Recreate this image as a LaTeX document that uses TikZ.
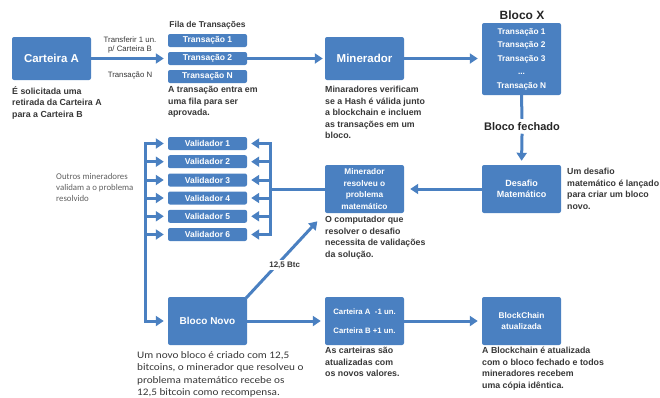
\documentclass[tikz,border=0pt]{standalone}
\usepackage{fontspec}
\setmainfont{Liberation Sans}
\newfontfamily\calfont{Carlito}
\newfontfamily\calwide[FakeStretch=1.12]{Carlito}
\usetikzlibrary{arrows.meta,calc}
\definecolor{bblue}{RGB}{74,128,193}
\definecolor{dtext}{RGB}{55,55,55}
\definecolor{ltext}{RGB}{95,95,95}
\begin{document}
\begin{tikzpicture}[x=1pt,y=-1pt,
 box/.style={fill=bblue,draw=none,rounded corners=2pt,text=white,align=center,inner sep=0pt},
 bigbox/.style={box,minimum width=79pt,minimum height=43pt},
 midbox/.style={box,minimum width=79pt,minimum height=48pt},
 smallbox/.style={box,minimum width=79pt,minimum height=13pt,font=\bfseries\fontsize{8.5}{10}\selectfont},
 desc/.style={anchor=north west,inner sep=0pt,align=left,text=dtext,font=\bfseries\fontsize{8.8}{11.6}\selectfont},
 flow/.style={draw=bblue,line width=3pt,line cap=rect,-{Triangle[length=8pt,width=10pt]}},
 plainline/.style={draw=bblue,line width=3pt},
 lbl/.style={text=dtext,align=center,inner sep=1pt,font=\fontsize{7.8}{9.5}\selectfont},
]
\useasboundingbox (0,0) rectangle (660,397);

% top row
\node[bigbox,font=\bfseries\fontsize{11.5}{13}\selectfont] (cartA) at (51.5,58.5) {Carteira A};
\node[text=dtext,font=\bfseries\fontsize{8.5}{10}\selectfont] (filat) at (207.5,25) {Fila de Transações};
\node[smallbox] (t1) at (207.5,40.5) {Transação 1};
\node[smallbox] (t2) at (207.5,58.5) {Transação 2};
\node[smallbox] (tN) at (207.5,76.5) {Transação N};
\node[lbl] (lab1) at (130,45) {Transferir 1 un.\\p/ Carteira B};
\node[lbl] (lab2) at (130,76) {Transação N};
\node[bigbox,font=\bfseries\fontsize{11.5}{13}\selectfont] (miner) at (364.5,58.5) {Minerador};
\node[text=black!85,font=\bfseries\fontsize{12}{14}\selectfont] (bxt) at (522,15) {Bloco X};
\node[box,minimum width=79pt,minimum height=72pt,font=\bfseries\fontsize{8.3}{13.5}\selectfont] (bx) at (521.5,59) {Transação 1\\Transação 2\\Transação 3\\...\\Transação N};
\node[text=black!85,font=\bfseries\fontsize{11}{13}\selectfont,inner sep=4pt] (fech) at (522,127) {Bloco fechado};

% middle row
\node[midbox,font=\bfseries\fontsize{9}{11.5}\selectfont] (des) at (521.5,189) {Desafio\\Matemático};
\node[midbox,font=\bfseries\fontsize{8.3}{11.7}\selectfont] (res) at (364.5,189) {Minerador\\resolveu o\\problema\\matemático};
\foreach \i/\y in {1/143.5,2/161.7,3/180,4/198,5/216.3,6/234.5}
  \node[smallbox] (v\i) at (207.5,\y) {Validador \i};
\coordinate (rb) at (270,189);
\coordinate (lbt) at (145,143.5);

% bottom row
\node[midbox,font=\bfseries\fontsize{10}{12}\selectfont] (novo) at (207.5,321) {Bloco Novo};
\node[midbox,font=\bfseries\fontsize{7.8}{19}\selectfont] (cart) at (364.5,321) {Carteira A\ \ -1 un.\\Carteira B +1 un.};
\node[midbox,font=\bfseries\fontsize{8.3}{11.5}\selectfont] (chain) at (521.5,321) {BlockChain\\atualizada};

% descriptions
\node[desc] (d1) at (12,86) {É solicitada uma\\retirada da Carteira A\\para a Carteira B};
\node[desc] (d2) at (168,86) {A transação entra em\\uma fila para ser\\aprovada.};
\node[desc] (d3) at (325,86) {Minaradores verificam\\se a Hash é válida junto\\a blockchain e incluem\\as transações em um\\bloco.};
\node[desc] (d4) at (567,168) {Um desafio\\matemático é lançado\\para criar um bloco\\novo.};
\node[desc] (d5) at (325,216) {O computador que\\resolver o desafio\\necessita de validações\\da solução.};
\node[desc] (d6) at (325,347) {As carteiras são\\atualizadas com\\os novos valores.};
\node[desc] (d7) at (482,347) {A Blockchain é atualizada\\com o bloco  fechado e todos\\mineradores recebem\\uma cópia idêntica.};
\node[anchor=north west,inner sep=0pt,align=left,text=ltext,font=\calfont\fontsize{8.8}{11}\selectfont] (d8) at (56,173) {Outros mineradores\\validam a o problema\\resolvido};
\node[anchor=north west,inner sep=0pt,align=left,text=dtext,font=\calwide\fontsize{10}{12.6}\selectfont] (d9) at (137,351) {Um novo bloco é criado com 12,5\\bitcoins, o minerador que resolveu o\\problema matemático recebe os\\12,5 bitcoin como recompensa.};

% connectors
\draw[flow,shorten >=4pt] (cartA.east) -- (t2.west);
\draw[flow,shorten >=2pt] (t2.east) -- (miner.west);
\draw[flow,shorten >=4pt] (miner.east) -- (miner.east -| bx.west);
\draw[plainline] (bx.south) -- (fech.north);
\draw[flow,shorten >=4pt] (fech.south) -- (des.north);
\draw[flow,shorten >=6pt] (des.west) -- (res.east);
\draw[plainline] (res.west) -- (rb);
\foreach \i in {1,...,6} {
  \draw[flow,shorten >=4pt] (rb) |- (v\i.east);
  \draw[flow,shorten >=4pt] (lbt) |- (v\i.west);
}
\draw[flow,shorten >=4pt] (lbt) |- (novo.west);
\draw[flow,shorten >=11pt] (novo.north east) -- node[pos=0.38,xshift=8pt,fill=white,inner sep=1.5pt,text=dtext,font=\bfseries\fontsize{8}{9}\selectfont] (btc) {12,5 Btc} (res.south west);
\draw[flow,shorten >=4pt] (novo.east) -- (cart.west);
\draw[flow,shorten >=4pt] (cart.east) -- (chain.west);
\end{tikzpicture}
\end{document}
